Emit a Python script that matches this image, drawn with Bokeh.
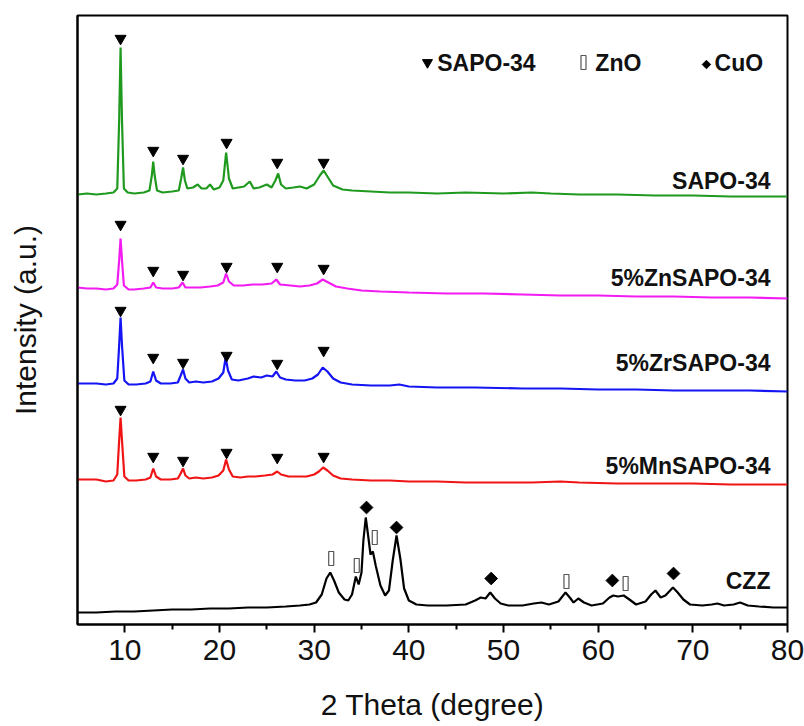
import math
from bokeh.plotting import figure
from bokeh.models import Range1d, FixedTicker, Label
from bokeh.embed import file_html
from bokeh.resources import INLINE

# ---------------- data (intensities in arbitrary, stacked units) ----------------
sapo_x = [5.0, 6.0, 7.0, 8.0, 8.8, 9.2, 9.4, 9.55, 9.7, 9.9, 10.3, 11, 12, 12.6, 12.85, 13.0, 13.15, 13.4, 14, 15,
          15.7, 15.95, 16.15, 16.35, 16.6, 17.2, 17.7, 18.1, 18.6, 19.0, 19.4, 20.0, 20.4, 20.7, 21.0, 21.4, 22.0,
          22.6, 23.2, 23.6, 24.2, 25.0, 25.5, 25.9, 26.2, 26.5, 27, 27.8, 28.5, 29.2, 30.0, 30.6, 31.0, 31.4, 32.0,
          33, 34, 36, 38, 40, 43, 46, 50, 53, 55, 58, 62, 66, 70, 74, 77, 80]
sapo_y = [430, 431, 430, 431, 432, 436, 504, 577, 504, 436, 432, 431, 432, 434, 449, 463, 449, 434, 432, 433,
          434, 446, 457, 444, 436, 437, 440, 436, 436, 440, 435, 437, 444, 472, 446, 436, 437,
          438, 443, 436, 437, 440, 437, 444, 451, 440, 436, 437, 438, 436, 440, 449, 454, 448, 439,
          435, 434, 433, 432, 432, 431, 432, 431, 432, 431, 430, 430, 429, 429, 428, 428, 428]

zn_x = [5.0, 6, 7, 8, 8.8, 9.2, 9.4, 9.55, 9.7, 9.9, 10.4, 11, 12, 12.7, 13.0, 13.3, 14, 15, 15.7, 16.1, 16.4, 17,
        18, 19, 19.8, 20.4, 20.7, 21.0, 21.5, 22.5, 23.5, 24.5, 25.5, 26.0, 26.4, 27.5, 28.5, 29.5, 30.3, 30.9,
        31.5, 32.3, 33.5, 35, 37, 40, 44, 48, 52, 56, 60, 64, 68, 72, 76, 80]
zn_y = [337, 336, 336, 335, 336, 340, 364, 386, 364, 339, 335, 335, 336, 337, 342, 337, 336, 336, 337, 342, 337, 337,
        337, 338, 339, 342, 351, 343, 339, 339, 340, 340, 341, 345, 340, 339, 338, 339, 341, 345,
        342, 338, 336, 334, 333, 332, 331, 331, 330, 329, 329, 328, 328, 327, 327, 326]

zr_x = [5, 6, 7, 8, 8.8, 9.2, 9.4, 9.55, 9.7, 9.95, 10.4, 11.2, 12.2, 12.7, 13.0, 13.3, 13.8, 14.8, 15.6, 15.9,
        16.15, 16.4, 16.8, 17.5, 18.3, 19.2, 19.9, 20.4, 20.65, 20.9, 21.3, 22, 23, 23.6, 24.4, 25, 25.6, 26.0,
        26.4, 27, 28, 29, 29.8, 30.4, 30.9, 31.4, 32.0, 32.8, 34, 36, 38, 39, 40, 43, 47, 52, 56, 60, 64, 68,
        72, 76, 80]
zr_y = [241, 241, 241, 240, 241, 246, 279, 307, 279, 244, 240, 240, 241, 243, 253, 244, 241, 241, 242, 249,
        255, 246, 242, 243, 242, 243, 246, 252, 267, 254, 245, 244, 246, 248, 247, 249, 248, 253,
        247, 245, 244, 244, 246, 250, 257, 253, 246, 242, 240, 239, 239, 240, 238, 237, 237, 236, 236, 235, 235, 234,
        234, 234, 233]

mn_x = [5, 6, 7, 8, 8.8, 9.2, 9.4, 9.55, 9.7, 9.95, 10.4, 11.2, 12.2, 12.7, 13.0, 13.3, 13.8, 14.8, 15.6, 15.9,
        16.15, 16.4, 16.8, 17.5, 18.3, 19.2, 19.9, 20.4, 20.7, 21.0, 21.4, 22.2, 23, 23.8, 24.8, 25.6, 26.1,
        26.5, 27.3, 28.3, 29.2, 30, 30.5, 30.95, 31.4, 32.0, 32.8, 34, 36, 38, 40, 43, 46, 50, 53, 56, 58, 62,
        66, 70, 74, 77, 80]
mn_y = [145, 145, 145, 143, 144, 150, 184, 207, 184, 148, 144, 144, 145, 147, 156, 148, 145, 145, 146, 151,
        156, 149, 146, 147, 146, 147, 149, 154, 165, 155, 148, 147, 148, 148, 149, 150, 153,
        150, 148, 148, 148, 150, 153, 157, 154, 149, 146, 145, 144, 144, 143, 143, 142, 142, 142, 143, 142, 141,
        141, 141, 140, 140, 140]

czz_x = [5, 7, 9, 11, 13, 15, 17, 19, 21, 23, 25, 27, 28.5, 29.5, 30.2, 30.8, 31.3, 31.7, 32.1, 32.6, 33.2, 33.6,
         34.0, 34.4, 34.7, 35.0, 35.2, 35.45, 35.7, 35.95, 36.2, 36.5, 37.0, 37.5, 37.9, 38.3, 38.7, 39.1, 39.5,
         40.0, 40.8, 42, 44, 46, 47.0, 47.6, 48.1, 48.6, 49.1, 49.7, 50.5, 52, 53.2, 54, 54.8, 55.8, 56.55, 57.0,
         57.4, 57.9, 58.5, 59.3, 60.5, 61.2, 61.6, 62.1, 62.7, 63.3, 64.0, 65.0, 65.6, 66.05, 66.6, 67.1, 67.9,
         68.4, 69.0, 69.7, 71, 72.0, 72.6, 73.3, 74.3, 75.0, 75.8, 77, 78.5, 80]
czz_y = [12, 12, 13, 13, 14, 15, 15, 16, 16, 17, 17, 18, 19, 20, 22, 30, 46, 52, 44, 32, 25, 24,
         30, 48, 40, 52, 84, 107, 89, 70, 73, 59, 39, 29, 34, 64, 89, 66, 36,
         24, 20, 19, 19, 20, 24, 27, 26, 32, 26, 21, 19, 19, 21, 22, 20, 23, 32, 27,
         22, 26, 22, 19, 21, 27, 29, 28, 29, 25, 20, 23, 30, 34, 27, 29, 37,
         32, 25, 20, 19, 20, 21, 19, 20, 22, 19, 18, 17, 17]

series_names = ["SAPO-34", "5%ZnSAPO-34", "5%ZrSAPO-34", "5%MnSAPO-34", "CZZ"]
series_colors = ["#1f9a1f", "#f21cf2", "#1414f5", "#f01414", "#000000"]
series_x = [sapo_x, zn_x, zr_x, mn_x, czz_x]
series_y = [sapo_y, zn_y, zr_y, mn_y, czz_y]
label_y = [444, 347, 262, 159, 44]

# phase markers
sapo_peaks = [9.55, 13.0, 16.15, 20.75, 26.1, 31.0]
sapo_mark_y = [
    [586, 474, 466, 482, 462, 462],
    [400, 354, 350, 358, 358, 356],
    [314, 267, 262, 269, 261, 274],
    [215, 168, 164, 172, 167, 168],
]
zno_x = [31.8, 34.5, 36.4, 56.65, 62.9]
zno_y = [66, 59, 87, 43, 41]
cuo_x = [35.53, 38.7, 48.7, 61.5, 67.96]
cuo_y = [117, 97, 46, 44, 51]

FONT = "Liberation Sans"

p = figure(width=804, height=726, output_backend="svg", toolbar_location=None,
           x_range=Range1d(5, 80), y_range=Range1d(0, 609),
           min_border_left=77, min_border_right=17, min_border_top=15, min_border_bottom=102)
p.background_fill_color = "white"
p.border_fill_color = "white"
p.grid.visible = False
p.outline_line_color = "black"
p.outline_line_width = 2

# x axis
p.xaxis.ticker = FixedTicker(ticks=[10, 20, 30, 40, 50, 60, 70, 80],
                             minor_ticks=[15, 25, 35, 45, 55, 65, 75])
p.xaxis.axis_line_width = 2
p.xaxis.major_tick_line_width = 2
p.xaxis.minor_tick_line_width = 2
p.xaxis.major_tick_in = 0
p.xaxis.major_tick_out = 8
p.xaxis.minor_tick_in = 0
p.xaxis.minor_tick_out = 5
p.xaxis.major_label_text_font = FONT
p.xaxis.major_label_text_font_size = "30px"
p.xaxis.major_label_text_color = "#111111"
p.xaxis.major_label_standoff = 7
p.xaxis.axis_label = "2 Theta (degree)"
p.xaxis.axis_label_text_font = FONT
p.xaxis.axis_label_text_font_size = "30px"
p.xaxis.axis_label_text_font_style = "normal"
p.xaxis.axis_label_text_color = "#111111"
p.xaxis.axis_label_standoff = 25

# y axis (no ticks)
p.yaxis.ticker = FixedTicker(ticks=[])
p.yaxis.axis_line_width = 2
p.yaxis.major_tick_out = 0
p.yaxis.major_tick_in = 0
p.yaxis.minor_tick_out = 0
p.yaxis.minor_tick_in = 0
p.yaxis.major_label_text_font_size = "0px"
p.yaxis.axis_label = "Intensity (a.u.)"
p.yaxis.axis_label_text_font = FONT
p.yaxis.axis_label_text_font_size = "30px"
p.yaxis.axis_label_text_font_style = "normal"
p.yaxis.axis_label_text_color = "#111111"
p.yaxis.axis_label_standoff = 36

# traces
for xs, ys, col, name, ly in zip(series_x, series_y, series_colors, series_names, label_y):
    p.line(xs, ys, line_color=col, line_width=2.2)
    p.add_layout(Label(x=78.2, y=ly, text=name, text_align="right", text_baseline="middle",
                       text_font=FONT, text_font_size="23px", text_font_style="bold",
                       text_color="#111111"))

for ys in sapo_mark_y:
    p.scatter(sapo_peaks, ys, marker="inverted_triangle", size=11,
              fill_color="black", line_color="black")

p.rect(zno_x, zno_y, width=5, height=14, width_units="screen", height_units="screen",
       fill_color="white", line_color="#555555", line_width=1.2)
p.scatter(cuo_x, cuo_y, marker="square", angle=math.pi / 4, size=9,
          fill_color="black", line_color="black")

# legend (top)
p.scatter([41.97], [562], marker="inverted_triangle", size=10, fill_color="black", line_color="black")
p.add_layout(Label(x=43.0, y=562, text="SAPO-34", text_align="left", text_baseline="middle",
                   text_font=FONT, text_font_size="23px", text_font_style="bold", text_color="#111111"))
p.rect([58.45], [562], width=5, height=14, width_units="screen", height_units="screen",
       fill_color="white", line_color="#555555", line_width=1.2)
p.add_layout(Label(x=59.7, y=562, text="ZnO", text_align="left", text_baseline="middle",
                   text_font=FONT, text_font_size="23px", text_font_style="bold", text_color="#111111"))
p.scatter([71.44], [560], marker="square", angle=math.pi / 4, size=6, fill_color="black", line_color="black")
p.add_layout(Label(x=72.3, y=562, text="CuO", text_align="left", text_baseline="middle",
                   text_font=FONT, text_font_size="23px", text_font_style="bold", text_color="#111111"))

# panel tag
p.add_layout(Label(x=1.62, y=584, text="(a)", text_align="center", text_baseline="middle",
                   text_font=FONT, text_font_size="29px", text_color="#111111"))

open("out.html", "w").write(file_html(p, INLINE))
